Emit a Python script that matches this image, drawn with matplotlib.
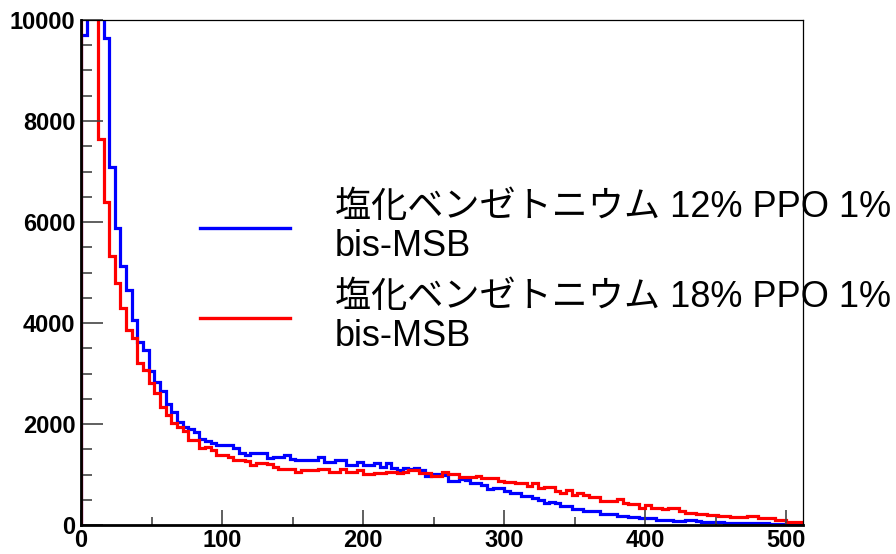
import numpy as np
import matplotlib
matplotlib.use("Agg")
import matplotlib.pyplot as plt
from matplotlib.lines import Line2D
from matplotlib.ticker import MultipleLocator

# Histogram contents, 128 bins of width 4 over 0..512
bin_width = 4
n_bins = 128

counts_12 = [
    9700, 12600, 12000, 10800, 9640, 7090, 5875, 5135, 4650, 4060,
    3630, 3465, 3055, 2840, 2660, 2395, 2245, 2045, 1935, 1900,
    1850, 1700, 1665, 1615, 1585, 1590, 1580, 1515, 1420, 1385,
    1420, 1430, 1420, 1320, 1340, 1353, 1387, 1300, 1290, 1280,
    1290, 1285, 1350, 1254, 1250, 1290, 1280, 1190, 1185, 1254,
    1188, 1190, 1234, 1155, 1221, 1120, 1089, 1135, 1100, 1135,
    1090, 970, 1010, 1010, 995, 877, 880, 905, 900, 825,
    825, 792, 713, 726, 726, 680, 627, 630, 574, 574,
    528, 495, 442, 460, 442, 376, 376, 317, 317, 284,
    284, 284, 218, 218, 218, 185, 185, 152, 152, 132,
    132, 132, 99, 99, 99, 79, 79, 99, 90, 80,
    66, 66, 60, 50, 46, 46, 46, 46, 40, 40,
    35, 30, 25, 20, 20, 20, 15, 15,
]

counts_18 = [
    13000, 12000, 10900, 7640, 6400, 5330, 4785, 4290, 3860, 3700,
    3215, 3070, 2805, 2620, 2345, 2180, 2015, 1935, 1870, 1685,
    1685, 1530, 1550, 1485, 1385, 1385, 1350, 1285, 1285, 1265,
    1190, 1220, 1220, 1215, 1155, 1100, 1110, 1100, 1056, 1089,
    1089, 1085, 1100, 1100, 1056, 1056, 1100, 1056, 1056, 1089,
    1003, 1003, 1023, 1023, 1040, 1040, 1023, 1043, 1089, 1089,
    1036, 1036, 970, 970, 1056, 1003, 1003, 944, 944, 944,
    970, 924, 924, 924, 877, 858, 858, 825, 825, 772,
    838, 726, 746, 746, 680, 640, 693, 594, 640, 594,
    561, 561, 482, 482, 482, 515, 442, 409, 409, 343,
    396, 343, 343, 310, 330, 330, 277, 231, 231, 220,
    210, 200, 190, 180, 175, 165, 160, 152, 178, 178,
    132, 132, 132, 99, 99, 66, 66, 66,
]

label_12 = ["塩化ベンゼトニウム 12% PPO 1%", "bis-MSB"]
label_18 = ["塩化ベンゼトニウム 18% PPO 1%", "bis-MSB"]

x_ticks = [0, 100, 200, 300, 400, 500]
y_ticks = [0, 2000, 4000, 6000, 8000, 10000]

edges = np.arange(n_bins + 1) * bin_width

W, H = 896, 554
fig = plt.figure(figsize=(W / 100, H / 100), dpi=100)
ax = fig.add_axes([81 / W, 1 - 525 / H, (803 - 81) / W, (525 - 20) / H])

ax.stairs(counts_12, edges, color="#0000ff", linewidth=2.3, baseline=0)
ax.stairs(counts_18, edges, color="#ff0000", linewidth=2.3, baseline=0)

ax.set_xlim(0, n_bins * bin_width)
ax.set_ylim(0, 10000)

ax.set_xticks(x_ticks)
ax.set_yticks(y_ticks)
ax.xaxis.set_minor_locator(MultipleLocator(50))
ax.yaxis.set_minor_locator(MultipleLocator(500))

tick_font = dict(family="Liberation Sans", weight="bold", size=17)
ax.set_xticklabels([str(v) for v in x_ticks], fontdict=tick_font)
ax.set_yticklabels([str(v) for v in y_ticks], fontdict=tick_font)

ax.tick_params(axis="x", which="major", direction="in", length=10.5, width=1.2,
               color="#444444", pad=3, top=False)
ax.tick_params(axis="x", which="minor", direction="in", length=5.5, width=1.2,
               color="#444444", top=False)
ax.tick_params(axis="y", which="major", direction="in", length=16, width=1.2,
               color="#444444", pad=4, right=False)
ax.tick_params(axis="y", which="minor", direction="in", length=8, width=1.2,
               color="#444444", right=False)

for side in ("bottom", "left"):
    ax.spines[side].set_linewidth(2.0)
    ax.spines[side].set_color("black")
for side in ("top", "right"):
    ax.spines[side].set_linewidth(0.9)
    ax.spines[side].set_color("black")

# Legend drawn in figure pixels
leg_font = dict(family=["Liberation Sans", "Noto Sans CJK JP"], size=26)
entries = [(label_12, "#0000ff", 228), (label_18, "#ff0000", 318)]
for lines, color, yc in entries:
    fig.add_artist(Line2D([200 / W, 290 / W], [1 - yc / H, 1 - yc / H],
                          color=color, linewidth=2.4, transform=fig.transFigure))
    fig.text(335 / W, 1 - (yc - 20) / H, lines[0], va="center", ha="left", **leg_font)
    fig.text(335 / W, 1 - (yc + 18) / H, lines[1], va="center", ha="left", **leg_font)

fig.savefig("out.png", dpi=100)
